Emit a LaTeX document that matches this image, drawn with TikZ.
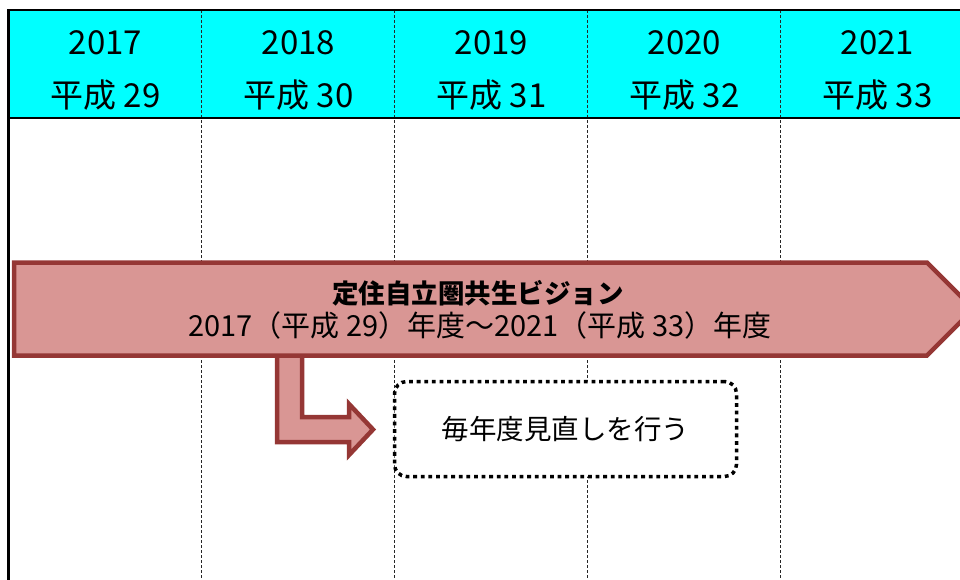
\documentclass[tikz,border=0pt]{standalone}
\usepackage{fontspec}
\setmainfont{Noto Sans CJK JP}
\definecolor{hdrcyan}{HTML}{00FFFF}
\definecolor{arrfill}{HTML}{D99694}
\definecolor{arrline}{HTML}{953735}
\begin{document}
\begin{tikzpicture}[x=1pt,y={(0pt,-1pt)},
  colline/.style={draw=black!85,line width=0.8pt,dash pattern=on 3pt off 2pt},
  frameline/.style={draw=black,line width=2.6pt},
  yearlbl/.style={font=\fontsize{33}{36}\selectfont,inner sep=0pt},
  arrowshape/.style={fill=arrfill,draw=arrline,line width=4.5pt,line join=miter},
  reviewbox/.style={draw=black,fill=white,line width=3.5pt,dash pattern=on 3.8pt off 3.8pt,rounded corners=12pt,minimum width=342pt,minimum height=95pt,font=\fontsize{27.5}{30}\selectfont},
]
\useasboundingbox (0,0) rectangle (960,580);
% header band
\fill[hdrcyan] (8.7,10) rectangle (975,118);
% column separators
\foreach \x in {201.5,394.5,587.5,780.5}
  \draw[colline] (\x,10) -- (\x,580);
% frame lines
\draw[frameline] (8.7,580) -- (8.7,10) -- (975,10);
\draw[frameline] (8.7,118) -- (975,118);
% year labels
\node[yearlbl] (y2017) at (105.5,43) {2017};
\node[yearlbl] (h29) at (105.5,95) {平成 29};
\node[yearlbl] (y2018) at (298.5,43) {2018};
\node[yearlbl] (h30) at (298.5,95) {平成 30};
\node[yearlbl] (y2019) at (491.5,43) {2019};
\node[yearlbl] (h31) at (491.5,95) {平成 31};
\node[yearlbl] (y2020) at (684.5,43) {2020};
\node[yearlbl] (h32) at (684.5,95) {平成 32};
\node[yearlbl] (y2021) at (877.5,43) {2021};
\node[yearlbl] (h33) at (877.5,95) {平成 33};
% bent arrow (drawn first, under the big arrow)
\draw[arrowshape] (277,350) -- (302,350) -- (302,417) -- (349,417) -- (349,404)
  -- (373,429.5) -- (349,455) -- (349,442) -- (277,442) -- cycle;
% big arrow
\draw[arrowshape] (14,262.5) -- (927,262.5) -- (973.5,309) -- (927,355.5) -- (14,355.5) -- cycle;
\node[inner sep=0pt,font=\fontsize{26.5}{28}\selectfont\bfseries] (vtitle) at (478,293) {定住自立圏共生ビジョン};
\node[inner sep=0pt,font=\fontsize{29}{32}\selectfont] (vperiod) at (480,325) {2017（平成 29）年度～2021（平成 33）年度};
% review box
\node[reviewbox] (review) at (565.5,429) {毎年度見直しを行う};
\end{tikzpicture}
\end{document}
